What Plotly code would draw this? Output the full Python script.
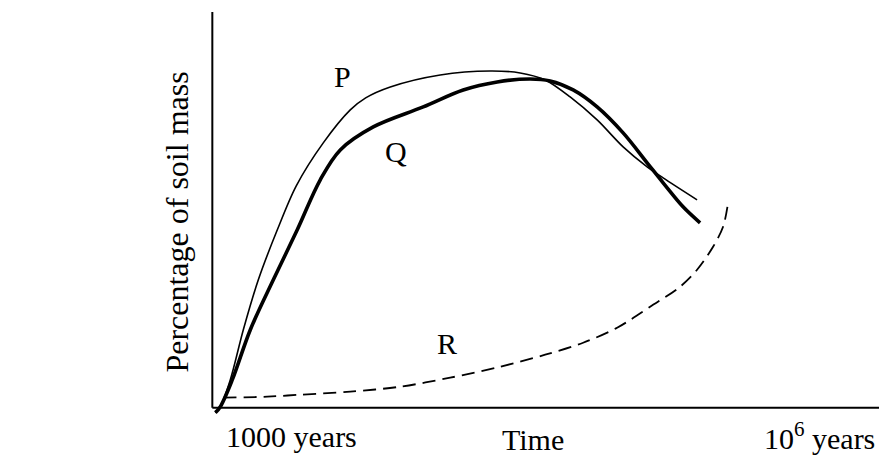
import plotly.graph_objects as go

# Time axis: 0 = 1000 years, 100 = 10^6 years ; y: percentage of soil mass (0-100)
p_time = [0.45, 1.20, 2.70, 4.65, 6.90, 9.75, 12.59, 16.64, 20.69, 23.0, 26.69, 34.18, 41.68,
          46.18, 49.93, 53.67, 57.72, 61.62, 65.22, 67.62, 72.71]
p_pct = [-1.26, 0.25, 7.07, 19.70, 32.32, 44.95, 56.06, 66.92, 75.25, 78.3, 81.06, 84.09, 85.10,
         84.60, 82.83, 78.54, 72.73, 65.91, 60.86, 58.08, 52.53]

q_time = [0.45, 1.20, 3.00, 5.70, 9.15, 12.74, 16.19, 19.19, 24.14, 31.63, 37.63, 42.73,
          47.68, 50.67, 54.12, 57.72, 61.62, 65.22, 67.62, 70.61, 73.16]
q_pct = [-1.26, 0.25, 7.07, 19.70, 32.32, 44.95, 57.58, 65.15, 70.96, 76.01, 80.30, 82.32,
         83.08, 82.58, 80.30, 76.01, 69.44, 61.87, 56.82, 50.76, 46.72]

r_time = [1.65, 8.25, 13.19, 20.69, 28.19, 35.68, 43.18, 49.93, 55.62, 60.72, 65.67, 70.16,
          72.71, 75.11, 76.61, 77.36]
r_pct = [2.53, 2.78, 3.28, 4.04, 5.30, 7.58, 10.35, 13.38, 16.41, 20.20, 25.51, 30.56,
         34.85, 40.66, 45.71, 51.77]

curve_labels = ["P", "Q", "R"]
label_time = [19.45, 27.55, 35.2]
label_pct = [83.8, 64.7, 16.2]

x_labels = ["1000 years", "Time", "10<sup>6</sup> years"]
y_title = "Percentage of soil mass"

FONT = "Liberation Serif, Times New Roman, serif"

fig = go.Figure()
fig.add_trace(go.Scatter(x=p_time, y=p_pct, mode="lines",
                         line=dict(color="black", width=1.6, shape="spline", smoothing=0.9),
                         showlegend=False, hoverinfo="skip"))
fig.add_trace(go.Scatter(x=q_time, y=q_pct, mode="lines",
                         line=dict(color="black", width=3.6, shape="spline", smoothing=1.0),
                         showlegend=False, hoverinfo="skip"))
fig.add_trace(go.Scatter(x=r_time, y=r_pct, mode="lines",
                         line=dict(color="black", width=1.8, shape="spline", smoothing=0.9,
                                   dash="13px,7px"),
                         showlegend=False, hoverinfo="skip"))

annotations = []
for t, xx, yy in zip(curve_labels, label_time, label_pct):
    annotations.append(dict(text=t, x=xx, y=yy, xref="x", yref="y", showarrow=False,
                            font=dict(family=FONT, size=30, color="black"),
                            xanchor="center", yanchor="middle"))

# bottom labels (paper coords)
bottom_x = [0.125, 0.485, 0.911]
bottom_y = [-0.055, -0.063, -0.055]
for t, xx, yy in zip(x_labels, bottom_x, bottom_y):
    annotations.append(dict(text=t, x=xx, y=yy, xref="paper", yref="paper", showarrow=False,
                            font=dict(family=FONT, size=30, color="black"),
                            xanchor="center", yanchor="middle"))
annotations.append(dict(text=y_title, x=-0.045, y=0.478, xref="paper", yref="paper",
                        showarrow=False, textangle=-90,
                        font=dict(family=FONT, size=32, color="black"),
                        xanchor="center", yanchor="middle"))

shapes = [
    dict(type="line", xref="x", yref="y", x0=0, y0=0, x1=0, y1=100,
         line=dict(color="black", width=2)),
    dict(type="line", xref="x", yref="y", x0=0, y0=0, x1=100, y1=0,
         line=dict(color="black", width=2)),
]

fig.update_layout(
    width=879, height=456,
    margin=dict(l=207, r=0, t=12, b=42),
    paper_bgcolor="white", plot_bgcolor="white",
    xaxis=dict(range=[-0.8, 100], visible=False, fixedrange=True),
    yaxis=dict(range=[-1.6, 100], visible=False, fixedrange=True),
    annotations=annotations,
    shapes=shapes,
)

fig.write_html("out.html", config={"displayModeBar": False},
               post_script="document.body.style.margin='0';document.body.style.padding='0';")
